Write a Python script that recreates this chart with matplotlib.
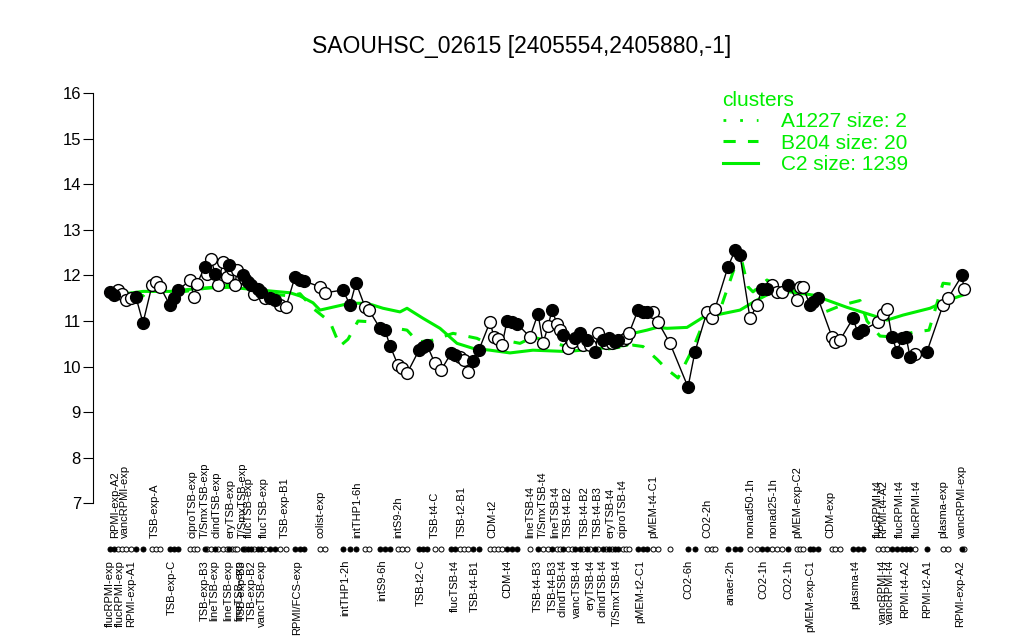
import matplotlib
matplotlib.use('Agg')
import matplotlib.pyplot as plt
from matplotlib.lines import Line2D

plt.rcParams['font.family'] = ['Liberation Sans', 'DejaVu Sans']

# sample positions along the x axis (sample order), expression values, filled marker flag
pos = [110, 114, 118, 122, 126, 131, 136, 143,
       152, 156, 160,
       170, 174, 178,
       190, 194, 197,
       205, 207, 211, 215, 218, 223, 227, 229, 232, 235, 237, 243, 245, 248, 251, 254, 258, 261, 265, 270, 275, 280, 286,
       295, 300, 304,
       320, 325,
       343, 350, 356,
       365, 369,
       380, 385, 390,
       398, 402, 407,
       419, 423, 427,
       435, 441,
       451, 455, 460, 464, 468, 473, 479,
       490, 494, 498, 502, 507, 512, 517,
       530, 538, 543, 548, 552, 557, 560, 563, 568, 572, 575, 580, 583, 587, 590, 595, 598, 603, 606, 609, 612, 615, 618, 623, 626, 629,
       638, 643, 647, 653, 658,
       670,
       688, 695,
       707, 712, 715,
       728, 735, 740,
       750, 757,
       762, 767, 772, 777, 782, 788,
       797, 800, 803, 810, 813, 818,
       832, 835, 840,
       853, 858, 863,
       878, 883, 887, 892, 897, 902, 906, 910, 915,
       927,
       943, 948,
       962, 964]
expr = [11.64, 11.57, 11.68, 11.60, 11.46, 11.50, 11.52, 10.96,
        11.78, 11.86, 11.75,
        11.35, 11.50, 11.68,
        11.89, 11.53, 11.82,
        12.19, 12.04, 12.37, 12.04, 11.79, 12.30, 11.97, 12.22, 12.15, 11.79, 12.11, 12.00, 11.93, 11.86, 11.80, 11.60, 11.71, 11.64, 11.50, 11.50, 11.46, 11.35, 11.31,
        11.97, 11.90, 11.88,
        11.75, 11.62,
        11.68, 11.35, 11.84,
        11.31, 11.24,
        10.84, 10.80, 10.46,
        10.03, 9.96, 9.85,
        10.36, 10.44, 10.47,
        10.07, 9.92,
        10.29, 10.25, 10.20, 10.14, 9.88, 10.12, 10.37,
        10.98, 10.65, 10.60, 10.47, 11.00, 10.98, 10.94,
        10.65, 11.16, 10.51, 10.88, 11.24, 10.94, 10.80, 10.69, 10.40, 10.54, 10.62, 10.73, 10.47, 10.58, 10.47, 10.33, 10.73, 10.58, 10.51, 10.62, 10.51, 10.54, 10.58, 10.58, 10.62, 10.73,
        11.24, 11.20, 11.20, 11.20, 10.98,
        10.51,
        9.55, 10.33,
        11.20, 11.06, 11.27,
        12.19, 12.55, 12.45,
        11.06, 11.35,
        11.71, 11.71, 11.79, 11.64, 11.64, 11.79,
        11.46, 11.75, 11.75, 11.35, 11.42, 11.50,
        10.65, 10.54, 10.58,
        11.06, 10.73, 10.80,
        10.98, 11.16, 11.27, 10.65, 10.33, 10.62, 10.66, 10.22, 10.28,
        10.33,
        11.35, 11.50,
        12.00, 11.71]
filled = [1, 1, 0, 0, 0, 0, 1, 1,
          0, 0, 0,
          1, 1, 1,
          0, 0, 0,
          1, 0, 0, 1, 0, 0, 0, 1, 0, 0, 0, 1, 0, 1, 1, 0, 1, 1, 0, 1, 1, 0, 0,
          1, 1, 1,
          0, 0,
          1, 1, 1,
          0, 0,
          1, 1, 1,
          0, 0, 0,
          1, 1, 1,
          0, 0,
          1, 1, 0, 0, 0, 1, 1,
          0, 0, 0, 0, 1, 1, 1,
          0, 1, 0, 0, 1, 0, 0, 1, 0, 0, 1, 1, 0, 1, 0, 1, 0, 1, 0, 1, 0, 1, 1, 0, 0, 0,
          1, 1, 1, 0, 0,
          0,
          1, 1,
          0, 0, 0,
          1, 1, 1,
          0, 0,
          1, 1, 0, 0, 0, 1,
          0, 0, 0, 1, 1, 1,
          0, 0, 0,
          1, 1, 1,
          0, 0, 0, 1, 1, 1, 1, 1, 0,
          1,
          0, 0,
          1, 0]

# cluster mean profiles
c2_pos = [108, 143, 170, 200, 230, 260, 290, 300, 313, 320, 350, 367, 383, 400, 407, 423, 440, 457, 473, 490,
          510, 533, 567, 600, 627, 633, 647, 657, 667, 687, 703, 720, 740, 757, 773, 790, 813, 847, 873, 887,
          903, 930, 947, 963]
c2_val = [11.55, 11.65, 11.65, 11.72, 11.74, 11.68, 11.62, 11.55, 11.40, 11.24, 11.39, 11.39, 11.28, 11.20, 11.28,
          11.06, 10.84, 10.51, 10.40, 10.36, 10.30, 10.36, 10.33, 10.40, 10.47, 10.73, 10.80, 10.86, 10.84, 10.86,
          11.08, 11.15, 11.24, 11.46, 11.64, 11.64, 11.57, 11.30, 11.12, 11.02, 11.13, 11.28, 11.45, 11.57]
b204_pos = [108, 143, 150, 170, 200, 230, 260, 290, 300, 313, 330, 340, 348, 358, 373, 390, 407, 418, 433, 453,
            477, 487, 500, 513, 520, 533, 550, 567, 600, 633, 643, 657, 667, 678, 693, 705, 720, 735, 742, 748,
            753, 767, 780, 813, 823, 842, 860, 867, 880, 893, 913, 929, 943, 955, 963]
b204_val = [11.60, 11.55, 11.72, 11.60, 11.70, 11.80, 11.62, 11.55, 11.60, 11.28, 10.98, 10.45, 10.60, 11.00, 10.98,
            10.86, 10.80, 10.54, 10.58, 10.73, 10.62, 10.51, 10.65, 10.54, 10.51, 10.65, 10.54, 10.44, 10.36, 10.47,
            10.44, 10.16, 9.94, 9.75, 10.40, 11.05, 11.24, 12.20, 12.30, 11.75, 11.64, 11.90, 11.75, 11.53, 11.18,
            11.35, 11.45, 11.00, 10.67, 10.65, 10.75, 10.80, 11.83, 11.80, 11.90]

top_lab_pos = [115, 125, 155, 192, 205, 217, 231, 243, 249, 264, 285, 321, 357, 398, 435, 462, 492, 530, 543,
               555, 568, 585, 598, 610, 622, 653, 707, 750, 773, 797, 830, 878, 883, 900, 917, 943, 962]
top_lab_txt = ['RPMI-exp-A2', 'vancRPMI-exp', 'TSB-exp-A', 'ciproTSB-exp', 'T/SmxTSB-exp', 'clindTSB-exp',
               'eryTSB-exp', 'T/SmxTSB-exp', 'flucTSB-exp', 'flucTSB-exp', 'TSB-exp-B1', 'colist-exp',
               'intTHP1-6h', 'intS9-2h', 'TSB-t4-C', 'TSB-t2-B1', 'CDM-t2', 'lineTSB-t4', 'T/SmxTSB-t4',
               'lineTSB-t4', 'TSB-t4-B2', 'TSB-t4-B2', 'TSB-t4-B3', 'eryTSB-t4', 'ciproTSB-t4', 'pMEM-t4-C1',
               'CO2-2h', 'nonad50-1h', 'nonad25-1h', 'pMEM-exp-C2', 'CDM-exp', 'flucRPMI-t4', 'RPMI-t4-A2',
               'flucRPMI-t4', 'flucRPMI-t4', 'plasma-exp', 'vancRPMI-exp']
bot_lab_pos = [110, 120, 131, 172, 205, 214, 228, 239, 242, 252, 262, 297, 345, 382, 421, 455, 475, 507, 538,
               553, 562, 577, 590, 603, 617, 640, 688, 730, 763, 788, 810, 855, 883, 890, 905, 927, 960]
bot_lab_txt = ['flucRPMI-exp', 'flucRPMI-exp', 'RPMI-exp-A1', 'TSB-exp-C', 'TSB-exp-B3', 'lineTSB-exp',
               'lineTSB-exp', 'lineTSB-exp', 'TSB-exp-B3', 'TSB-exp-B2', 'vancTSB-exp', 'RPMI/FCS-exp',
               'intTHP1-2h', 'intS9-6h', 'TSB-t2-C', 'flucTSB-t4', 'TSB-t4-B1', 'CDM-t4', 'TSB-t4-B3',
               'TSB-t4-B3', 'clindTSB-t4', 'vancTSB-t4', 'eryTSB-t4', 'clindTSB-t4', 'T/SmxTSB-t4',
               'pMEM-t2-C1', 'CO2-6h', 'anaer-2h', 'CO2-1h', 'CO2-1h', 'pMEM-exp-C1', 'plasma-t4',
               'vancRPMI-t4', 'vancRPMI-t4', 'RPMI-t4-A2', 'RPMI-t2-A1', 'RPMI-exp-A2']

green = '#00ee00'

fig = plt.figure(figsize=(10.24, 6.4), dpi=100)
ax = fig.add_axes([95 / 1024, 0.188, 885 / 1024, 0.692])
ax.set_xlim(95, 980)
ax.set_ylim(6.64, 16.36)

# cluster lines
ax.plot(c2_pos, c2_val, color=green, lw=2.2, zorder=2)
ax.plot(b204_pos, b204_val, color=green, lw=2.2, ls=(0, (4, 4)), zorder=2)

# gene profile
ax.plot(pos, expr, color='black', lw=1, zorder=3)
fill_x = [p for p, f in zip(pos, filled) if f]
fill_y = [e for e, f in zip(expr, filled) if f]
open_x = [p for p, f in zip(pos, filled) if not f]
open_y = [e for e, f in zip(expr, filled) if not f]
ax.plot(open_x, open_y, 'o', ms=8.5, mfc='white', mec='black', mew=1, ls='none', zorder=4)
ax.plot(fill_x, fill_y, 'o', ms=8.5, mfc='black', mec='black', mew=1, ls='none', zorder=4)

# sample strip below the axis
ax.plot(open_x, [6.0] * len(open_x), 'o', ms=3.6, mfc='white', mec='black', mew=0.7,
        ls='none', clip_on=False)
ax.plot(fill_x, [6.0] * len(fill_x), 'o', ms=3.6, mfc='black', mec='black', mew=0.7,
        ls='none', clip_on=False)
for x, t in zip(top_lab_pos, top_lab_txt):
    ax.text(x, 6.24, t, rotation=90, ha='center', va='bottom', fontsize=8, clip_on=False)
for x, t in zip(bot_lab_pos, bot_lab_txt):
    ax.text(x, 5.76, t, rotation=90, ha='center', va='top', fontsize=8, clip_on=False)

for s in ['top', 'right', 'bottom']:
    ax.spines[s].set_visible(False)
ax.spines['left'].set_bounds(7, 16)
ax.spines['left'].set_position(('data', 93.5))
ax.set_xticks([])
ax.set_yticks(range(7, 17))
ax.tick_params(axis='y', length=7, labelsize=12, pad=2)

fig.text(522 / 1024, 1 - 47 / 640, 'SAOUHSC_02615 [2405554,2405880,-1]', ha='center', va='center',
         fontsize=16.5)

handles = [Line2D([], [], color=green, lw=2, ls=(0, (1, 5))),
           Line2D([], [], color=green, lw=2.2, ls=(0, (4, 4))),
           Line2D([], [], color=green, lw=2.2)]
leg = ax.legend(handles, ['A1227 size: 2', 'B204 size: 20', 'C2 size: 1239'], title='clusters',
                loc='upper left', bbox_to_anchor=(708 / 1024, 1 - 76 / 640), bbox_transform=fig.transFigure,
                frameon=False, fontsize=15, title_fontsize=15, labelcolor=green, handlelength=1.7,
                handletextpad=1.1, labelspacing=0.12, borderpad=0.2, alignment='left')
leg.get_title().set_color(green)

plt.savefig('out.png', dpi=100)
